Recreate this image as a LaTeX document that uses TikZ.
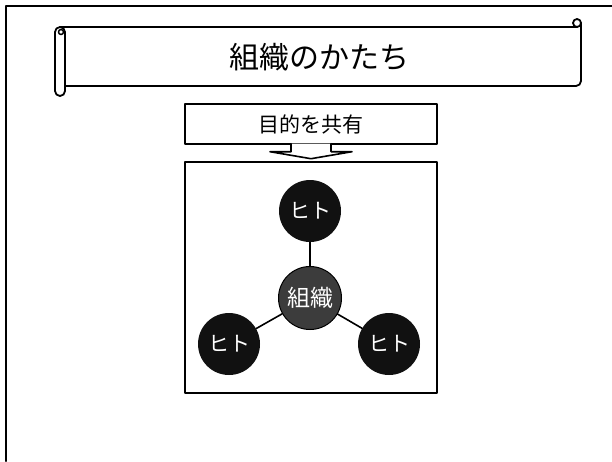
\documentclass[tikz,border=0pt]{standalone}
\usepackage{fontspec}
\newfontfamily\jpfont{Noto Sans CJK JP}
\usetikzlibrary{positioning}
\definecolor{hito}{HTML}{111111}
\definecolor{soshiki}{HTML}{3C3C3C}
\tikzset{
  person/.style={circle, fill=hito, minimum size=62pt, inner sep=0pt, text=white, font=\jpfont\fontsize{21}{25}\selectfont},
  core/.style={circle, fill=soshiki, draw=black, line width=1pt, minimum size=63pt, inner sep=0pt, text=white, font=\jpfont\fontsize{23}{27}\selectfont},
  panel/.style={draw, line width=1.8pt, inner sep=0pt},
}
\begin{document}
\begin{tikzpicture}[x=1pt, y=-1pt, line join=round, line cap=round]
\useasboundingbox (0,0) rectangle (612,461);
% page frame
\draw[line width=2.4pt] (612,6) -- (6,6) -- (6,461);
% scroll
\draw[line width=1.8pt] (60,27) -- (577,27);
\draw[line width=1.8pt] (577,23) circle (4);
\draw[line width=1.8pt, rounded corners=5pt] (581,23) -- (581,86) -- (65,86);
\draw[line width=1.8pt, fill=white, rounded corners=5pt] (55,27) rectangle (65,96);
\draw[line width=1.5pt] (61,32) circle (2.5);
\node[font=\jpfont\fontsize{30}{36}\selectfont] (title) at (319,57) {組織のかたち};
% goal box and arrow
\node[panel, minimum width=252pt, minimum height=40pt, font=\jpfont\fontsize{21}{25}\selectfont] (goal) at (311,124) {目的を共有};
\node[panel, minimum width=252pt, minimum height=231pt] (orgbox) at (311,277.5) {};
\path (goal.south) coordinate (g);
\draw[line width=1.6pt, fill=white] (g) ++(-20,-1.2) -- ++(0,8) -- ++(-21,0) -- ++(41,7) -- ++(41,-7) -- ++(-21,0) -- ++(0,-8);
% organisation
\node[core] (org) at (310,298) {組織};
\node[person] (p1) at (310,211) {ヒト};
\node[person] (p2) at (229,344) {ヒト};
\node[person] (p3) at (389,344) {ヒト};
\foreach \p in {p1,p2,p3} \draw[line width=1.6pt] (org) -- (\p);
\end{tikzpicture}
\end{document}
